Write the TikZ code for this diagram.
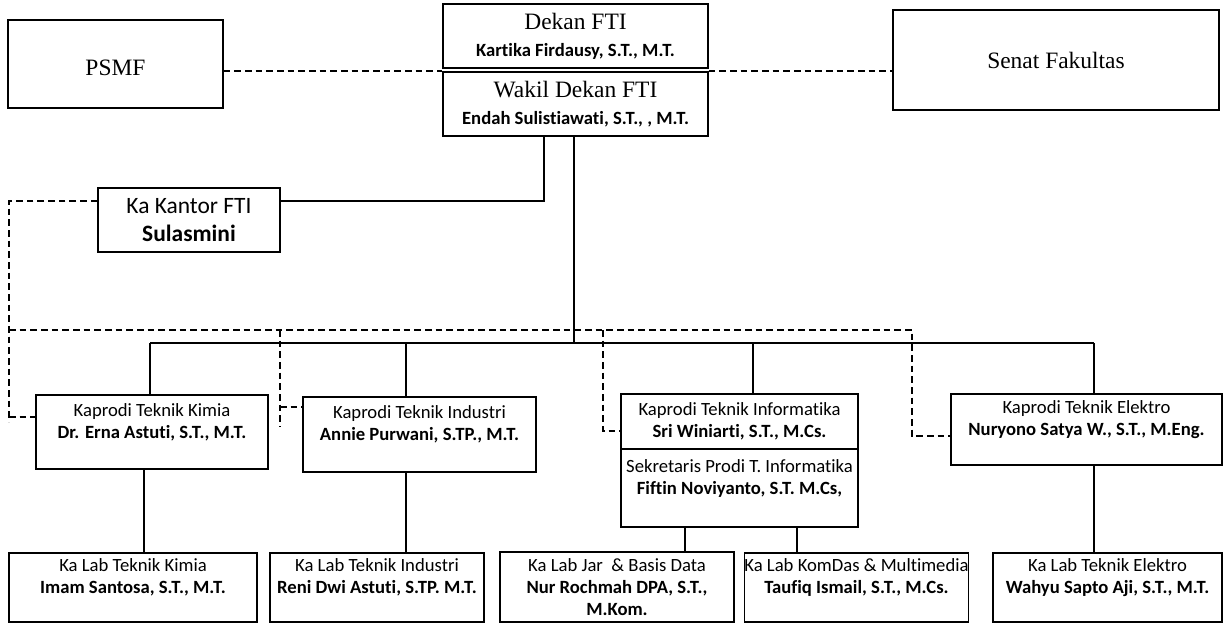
\documentclass[tikz,border=0pt]{standalone}
\usepackage{fontspec}
\setmainfont{Liberation Serif}
\newfontfamily\calibri[Ligatures=NoCommon]{Carlito}

\begin{document}
\begin{tikzpicture}[x=0.75pt, y=-0.75pt, line width=1pt, box/.style={draw, align=center, inner sep=0pt}, serif/.style={font=\fontsize{17.6}{20}\selectfont}, small/.style={font=\calibri\fontsize{14}{16.8}\selectfont}, big/.style={font=\calibri\fontsize{17.6}{21}\selectfont}, dline/.style={dash pattern=on 5pt off 3pt}]
\useasboundingbox (0,0) rectangle (1227,624);
\node[box, serif, minimum width=161.25pt, minimum height=66pt, text height=18pt] (psmf) at (115.5,64) {PSMF};
\node[box, serif, minimum width=198.75pt, minimum height=48pt] (dekan) at (575.5,36) {Dekan FTI\\ {\calibri\fontsize{14}{16.8}\selectfont\bfseries Kartika Firdausy, S.T., M.T.}};
\node[box, serif, minimum width=198.75pt, minimum height=48pt] (wakil) at (575.5,104) {Wakil Dekan FTI\\ {\calibri\fontsize{14}{16.8}\selectfont\bfseries Endah Sulistiawati, S.T., , M.T.}};
\node[box, serif, minimum width=244.5pt, minimum height=75pt] (senat) at (1056,60) {Senat Fakultas};
\node[box, big, minimum width=136.5pt, minimum height=48pt] (kantor) at (189,220) {Ka Kantor FTI\\ \textbf{Sulasmini}};
\node[box, small, minimum width=174pt, minimum height=55.5pt] (kimia) at (152,432) {Kaprodi Teknik Kimia\\ \textbf{Dr. Erna Astuti, S.T., M.T.}\\ ~};
\node[box, small, minimum width=174.75pt, minimum height=56.25pt] (industri) at (419.5,434.5) {Kaprodi Teknik Industri\\ \textbf{Annie Purwani, S.TP., M.T.}\\ ~};
\node[box, small, minimum width=177.75pt, minimum height=41.25pt] (informatika) at (739.5,421.5) {Kaprodi Teknik Informatika\\ \textbf{Sri Winiarti, S.T., M.Cs.}};
\node[box, small, minimum width=177.75pt, minimum height=58.5pt] (sekretaris) at (739.5,488) {Sekretaris Prodi T. Informatika\\ \textbf{Fiftin Noviyanto, S.T. M.Cs,}\\ ~};
\node[box, small, minimum width=203.25pt, minimum height=53.25pt] (elektro) at (1086.5,429.5) {Kaprodi Teknik Elektro\\ \textbf{Nuryono Satya W., S.T., M.Eng.}\\ ~};
\node[box, small, minimum width=186pt, minimum height=51.75pt] (labkimia) at (133,587.5) {Ka Lab Teknik Kimia\\ \textbf{Imam Santosa, S.T., M.T.}\\ ~};
\node[box, small, minimum width=160.5pt, minimum height=51.75pt] (labindustri) at (377,587.5) {Ka Lab Teknik Industri\\ \textbf{Reni Dwi Astuti, S.TP. M.T.}\\ ~};
\node[box, small, minimum width=175.5pt, minimum height=52.5pt] (labjar) at (617,587) {Ka Lab Jar~ \& Basis Data\\ \textbf{Nur Rochmah DPA, S.T.,}\\ \textbf{M.Kom.}};
\node[box, small, minimum width=165.75pt, minimum height=51.75pt] (labkomdas) at (856.5,587.5) {Ka Lab KomDas \& Multimedia\\ \textbf{Taufiq Ismail, S.T., M.Cs.}\\ ~};
\node[box, small, minimum width=171.75pt, minimum height=51.75pt] (labelektro) at (1107.5,587.5) {Ka Lab Teknik Elektro\\ \textbf{Wahyu Sapto Aji, S.T., M.T.}\\ ~};
\coordinate (k1) at (544,201);
\coordinate (bar) at (574,343);
\coordinate (b1) at (150,343);
\coordinate (b2) at (406,343);
\coordinate (b3) at (753,343);
\coordinate (b4) at (1094,343);
\coordinate (dl) at (9,330);
\coordinate (d1) at (280,330);
\coordinate (d2) at (603,330);
\coordinate (dr) at (912,330);
\draw (wakil.south -| k1) -- (k1) -- (kantor.east |- k1);
\draw (wakil.south -| bar) -- (bar);
\draw (b1) -- (b4);
\draw (b1) -- (kimia.north -| b1);
\draw (b2) -- (industri.north -| b2);
\draw (b3) -- (informatika.north -| b3);
\draw (b4) -- (elektro.north -| b4);
\draw (kimia.south -| 144,0) -- (labkimia.north -| 144,0);
\draw (industri.south -| b2) -- (labindustri.north -| b2);
\draw (sekretaris.south -| 685,0) -- (labjar.north -| 685,0);
\draw (sekretaris.south -| 797,0) -- (labkomdas.north -| 797,0);
\draw (elektro.south -| b4) -- (labelektro.north -| b4);
\draw[dline] (psmf.east |- 0,71) -- (dekan.west |- 0,71);
\draw[dline] (dekan.east |- 0,71) -- (senat.west |- 0,71);
\draw[dline] (kantor.west |- k1) -| (dl |- 0,422);
\draw[dline] (dl |- 0,417) -- (kimia.west |- 0,417);
\draw[dline] (dl) -- (dr) |- (elektro.west |- 0,436);
\draw[dline] (d1) -- (d1 |- 0,427);
\draw[dline] (d1 |- 0,407) -- (industri.west |- 0,407);
\draw[dline] (d2) |- (informatika.west |- 0,431);
\end{tikzpicture}
\end{document}
